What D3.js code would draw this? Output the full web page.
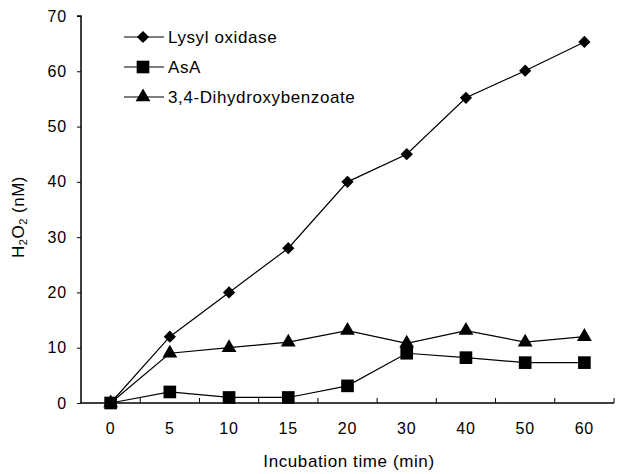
<!DOCTYPE html>
<html>
<head>
<meta charset="utf-8">
<script src="https://cdn.jsdelivr.net/npm/d3@7"></script>
<style>
  body { margin: 0; background: #fff; }
  text { font-family: "Liberation Sans", Arial, sans-serif; fill: #000; }
</style>
</head>
<body>
<div id="chart"></div>
<script>
var times = ['0', '5', '10', '15', '20', '30', '40', '50', '60'];
var lysyl = [0, 12, 20, 28, 40, 45, 55.2, 60.1, 65.3];
var asa = [0, 2, 1, 1, 3.1, 9, 8.2, 7.3, 7.3];
var dhb = [0, 9, 10, 11, 13.1, 10.8, 13.1, 11, 12];
var yTicks = [0, 10, 20, 30, 40, 50, 60, 70];

var series = [
  {name: 'Lysyl oxidase', values: lysyl, shape: 'diamond'},
  {name: 'AsA', values: asa, shape: 'square'},
  {name: '3,4-Dihydroxybenzoate', values: dhb, shape: 'triangle'}
];

var width = 626, height = 474;
var margin = {top: 16, right: 12, bottom: 71, left: 81};

var svg = d3.select('#chart').append('svg')
    .attr('width', width)
    .attr('height', height);

var x = d3.scaleBand()
    .domain(times)
    .range([margin.left, 614]);

var y = d3.scaleLinear()
    .domain([0, 70])
    .range([height - margin.bottom, margin.top]);

// y axis
var yAxis = svg.append('g')
    .attr('transform', 'translate(' + margin.left + ',0)')
    .call(d3.axisLeft(y).tickValues(yTicks).tickSize(4).tickPadding(10));
yAxis.select('.domain').attr('d', 'M-4,' + y(70) + 'H0V' + y(0));
yAxis.selectAll('text').style('font-size', '16px').style('letter-spacing', '0.8px');

// x axis: ticks at band boundaries, pointing up
var xg = svg.append('g').attr('transform', 'translate(0,' + y(0) + ')');
xg.append('line')
    .attr('x1', margin.left).attr('x2', 614)
    .attr('stroke', '#000').attr('stroke-width', 1.5);
var bounds = times.map(function (t) { return x(t); }).concat([614]);
xg.selectAll('.tk').data(bounds.slice(1)).enter().append('line')
    .attr('x1', function (d) { return d; }).attr('x2', function (d) { return d; })
    .attr('y1', 0).attr('y2', -5)
    .attr('stroke', '#000');
xg.selectAll('.lbl').data(times).enter().append('text')
    .attr('x', function (d) { return x(d) + x.bandwidth() / 2; })
    .attr('y', 31)
    .attr('text-anchor', 'middle')
    .style('font-size', '16px')
    .style('letter-spacing', '0.8px')
    .text(function (d) { return d; });

svg.selectAll('.domain').attr('stroke-width', 1.5);

// axis titles
svg.append('text')
    .attr('x', 349).attr('y', 467)
    .attr('text-anchor', 'middle')
    .style('font-size', '17px')
    .style('letter-spacing', '0.6px')
    .text('Incubation time (min)');

var yl = svg.append('text')
    .attr('transform', 'translate(24,217) rotate(-90)')
    .attr('text-anchor', 'middle')
    .style('font-size', '17px')
    .style('letter-spacing', '0.5px');
yl.append('tspan').text('H');
yl.append('tspan').attr('dy', 3).style('font-size', '11px').text('2');
yl.append('tspan').attr('dy', -3).text('O');
yl.append('tspan').attr('dy', 3).style('font-size', '11px').text('2');
yl.append('tspan').attr('dy', -3).text(' (nM)');

var symbolFor = {
  diamond: d3.symbol().type(d3.symbolSquare).size(75),
  square: d3.symbol().type(d3.symbolSquare).size(160),
  triangle: d3.symbol().type(d3.symbolTriangle).size(95)
};

function cx(i) { return x(times[i]) + x.bandwidth() / 2; }

var line = d3.line()
    .x(function (d, i) { return cx(i); })
    .y(function (d) { return y(d); });

series.forEach(function (s) {
  svg.append('path')
      .datum(s.values)
      .attr('fill', 'none')
      .attr('stroke', '#000')
      .attr('stroke-width', 1.2)
      .attr('d', line);
  svg.selectAll('.m-' + s.shape).data(s.values).enter().append('path')
      .attr('d', symbolFor[s.shape])
      .attr('transform', function (d, i) {
        return 'translate(' + cx(i) + ',' + y(d) + ')' + (s.shape === 'diamond' ? ' rotate(45)' : '');
      })
      .attr('fill', '#000');
});

// legend
var legend = svg.append('g');
series.forEach(function (s, i) {
  var ly = 37 + i * 30;
  legend.append('line')
      .attr('x1', 124).attr('x2', 164)
      .attr('y1', ly).attr('y2', ly)
      .attr('stroke', '#000').attr('stroke-width', 1.2);
  legend.append('path')
      .attr('d', symbolFor[s.shape])
      .attr('transform', 'translate(143,' + ly + ')' + (s.shape === 'diamond' ? ' rotate(45)' : ''))
      .attr('fill', '#000');
  legend.append('text')
      .attr('x', 168).attr('y', ly + 6)
      .style('font-size', '17px')
      .style('letter-spacing', '0.6px')
      .text(s.name);
});
</script>
</body>
</html>
